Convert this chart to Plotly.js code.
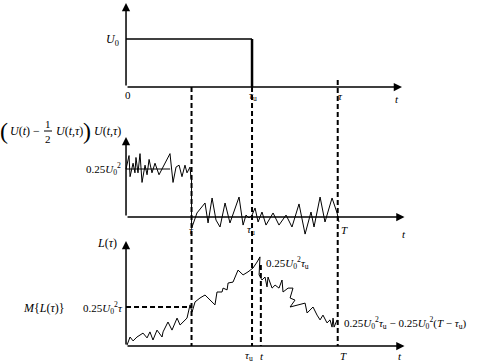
<!DOCTYPE html>
<html><head><meta charset="utf-8">
<script src="https://cdn.plot.ly/plotly-3.0.1.min.js"></script>
<style>html,body{margin:0;padding:0;background:#fff}#chart{width:481px;height:363px}</style>
</head><body><div id="chart"></div>
<script>
// ---- key instants (time units, tau_u = 10) ----
const tauMark = 5.2;     // τ
const tauU = 10;         // τ_u
const Tend = 16.8;       // T
const tCursor = 10.7;    // t (bottom panel)

// ---- panel 1: rectangular pulse U(t) ----
const pulseT = [0, 10];
const pulseU = [1, 1];
const pulseEdgeT = [10, 10];
const pulseEdgeU = [1, 0];

// ---- panel 2: product [U(t) - 1/2 U(t,τ)] U(t,τ) ----
const meanLevel = 0.25;
const meanT = [0, 3.5];
const prodLeftT = [0, 0.24, 0.32, 0.56, 0.71, 0.79, 0.95, 1.11, 1.27, 1.51, 1.67, 1.83, 2.06, 2.30, 2.62, 3.49, 3.73, 3.97, 4.21, 4.44, 4.68, 4.84, 5.08, 5.16, 5.2, 5.2];
const prodLeftV = [0.25, 0.32, 0.21, 0.28, 0.23, 0.31, 0.23, 0.33, 0.18, 0.27, 0.22, 0.30, 0.23, 0.28, 0.22, 0.33, 0.18, 0.26, 0.27, 0.21, 0.27, 0.23, 0.26, 0.20, 0.21, -0.06];
const prodRightT = [5.2, 5.63, 6.27, 6.51, 6.83, 7.14, 7.46, 7.86, 8.25, 8.97, 9.29, 9.52, 9.76, 10.0, 10.24, 10.48, 10.79, 11.11, 11.67, 12.14, 12.70, 13.17, 13.73, 14.21, 14.68, 14.92, 15.40, 15.79, 16.35, 16.75, 16.90];
const prodRightV = [-0.06, 0.021, 0.073, -0.031, 0.099, -0.016, -0.052, 0.073, -0.031, 0.104, -0.042, 0.010, -0.005, 0.010, 0.047, -0.026, 0.026, -0.042, 0.021, -0.042, 0.010, -0.052, 0.068, -0.089, 0.026, -0.052, 0.104, -0.026, 0.099, 0.021, -0.026];

// ---- panel 3: L(τ) ----
const meanL = 1.3;   // 0.25 U0^2 τ
const lT = [0.08, 0.32, 0.56, 0.87, 1.35, 1.67, 1.90, 2.14, 2.46, 2.86, 2.94, 3.33, 3.65, 4.05, 4.29, 4.84, 5.08, 5.24, 5.48, 5.87, 6.27, 7.06, 7.22, 7.62, 7.70, 8.02, 8.10, 8.49, 8.89, 9.29, 9.68, 10.08, 10.40, 10.63, 10.56, 10.79, 11.03, 11.19, 11.27, 11.59, 11.83, 12.14, 12.38, 12.46, 12.86, 13.25, 13.02, 13.41, 13.02, 13.65, 14.21, 14.37, 14.84, 15.16, 15.40, 15.63, 15.95, 16.19, 16.35, 16.43, 16.51, 16.75];
const lV = [0.03, 0.30, 0.17, 0.30, 0.43, 0.27, 0.47, 0.20, 0.53, 0.30, 0.47, 0.80, 0.53, 0.93, 0.70, 0.93, 1.37, 1.13, 1.47, 1.60, 1.70, 1.37, 1.80, 1.80, 1.93, 1.87, 2.10, 2.13, 2.53, 2.37, 2.47, 2.60, 2.80, 2.97, 2.37, 2.20, 2.30, 1.97, 2.30, 1.93, 2.03, 1.93, 2.20, 1.80, 1.93, 1.93, 1.60, 1.53, 1.30, 1.37, 1.43, 1.10, 1.30, 1.03, 0.87, 1.03, 0.77, 0.87, 0.63, 0.93, 0.63, 0.87];

const W = 481, H = 363;
const FONT = 'Liberation Serif, Times New Roman, serif';
const line = (w) => ({color: '#000', width: w});

const traces = [
  {x: pulseT, y: pulseU, type: 'scatter', mode: 'lines', line: line(1.5), xaxis: 'x', yaxis: 'y', hoverinfo: 'skip'},
  {x: pulseEdgeT, y: pulseEdgeU, type: 'scatter', mode: 'lines', line: line(2.5), xaxis: 'x', yaxis: 'y', hoverinfo: 'skip'},
  {x: meanT, y: [meanLevel, meanLevel], type: 'scatter', mode: 'lines', line: line(1.2), xaxis: 'x', yaxis: 'y2', hoverinfo: 'skip'},
  {x: prodLeftT, y: prodLeftV, type: 'scatter', mode: 'lines', line: line(1), xaxis: 'x', yaxis: 'y2', hoverinfo: 'skip'},
  {x: prodRightT, y: prodRightV, type: 'scatter', mode: 'lines', line: line(1), xaxis: 'x', yaxis: 'y2', hoverinfo: 'skip'},
  {x: lT, y: lV, type: 'scatter', mode: 'lines', line: line(1), xaxis: 'x', yaxis: 'y3', hoverinfo: 'skip'}
];

// paper position helpers for layout items
const PX = (x) => x / W;
const PY = (y) => 1 - y / H;
function lab(text, x, y, anchor, size) {
  return {text: text, xref: 'paper', yref: 'paper', x: PX(x), y: PY(y),
    xanchor: anchor || 'center', yanchor: 'middle', showarrow: false,
    font: {family: FONT, size: size || 11, color: '#000'}};
}
function arrow(xh, yh, xt, yt, yref) {
  return {x: xh, y: yh, ax: xt, ay: yt, xref: 'x', yref: yref, axref: 'x', ayref: yref,
    text: '', showarrow: true, arrowhead: 2, arrowsize: 1.1, arrowwidth: 1.5, arrowcolor: '#000', standoff: 0, startstandoff: 0};
}
const U02 = '<i>U</i><sub>0</sub><sup>2</sup>';
const annotations = [
  // axes
  arrow(0, 1.75, 0, 0, 'y'), arrow(21.9, 0, 0, 0, 'y'),
  arrow(0, 0.417, 0, 0, 'y2'), arrow(22.1, 0, 0, 0, 'y2'),
  arrow(0, 3.5, 0, 0, 'y3'), arrow(22.1, 0, 0, 0, 'y3'),
  // panel 1
  lab('<i>U</i><sub>0</sub>', 112, 40, 'center', 12),
  lab('0', 128, 95),
  lab('<i>τ</i><sub>u</sub>', 253, 96),
  lab('<i>τ</i>', 340, 96),
  lab('<i>t</i>', 397, 99),
  // panel 2
  lab('(', 4, 131, 'center', 24),
  lab('<i>U</i>(<i>t</i>) −', 25, 131, 'center', 12),
  lab('1', 48, 124, 'center', 11),
  lab('2', 48, 139, 'center', 11),
  lab('<i>U</i>(<i>t</i>,<i>τ</i>)', 54, 131, 'left', 12),
  lab(')', 87, 131, 'center', 24),
  lab('<i>U</i>(<i>t</i>,<i>τ</i>)', 92, 131, 'left', 12),
  lab('0.25' + U02, 123, 169, 'right'),
  lab('<i>τ</i>', 191, 230),
  lab('<i>τ</i><sub>u</sub>', 251, 230),
  lab('<i>T</i>', 344, 230),
  lab('<i>t</i>', 404, 234),
  // panel 3
  lab('<i>L</i>(<i>τ</i>)', 107, 243, 'center', 12),
  lab('<i>M</i>{<i>L</i>(<i>τ</i>)}', 44, 308, 'center', 12),
  lab('0.25' + U02 + '<i>τ</i>', 125, 308, 'right'),
  lab('0.25' + U02 + '<i>τ</i><sub>u</sub>', 264, 263, 'left'),
  lab('0.25' + U02 + '<i>τ</i><sub>u</sub> − 0.25' + U02 + '(<i>T</i> − <i>τ</i><sub>u</sub>)', 342, 323, 'left'),
  lab('<i>τ</i><sub>u</sub>', 249, 356),
  lab('<i>t</i>', 262, 356),
  lab('<i>T</i>', 343, 356),
  lab('<i>t</i>', 400, 356)
];

const dash = {color: '#000', width: 2, dash: '5px,3px'};
const shapes = [
  {type: 'line', xref: 'x', yref: 'paper', x0: tauMark, x1: tauMark, y0: PY(87), y1: PY(346), line: dash},
  {type: 'line', xref: 'x', yref: 'paper', x0: tauU, x1: tauU, y0: PY(87), y1: PY(346), line: dash},
  {type: 'line', xref: 'x', yref: 'paper', x0: Tend, x1: Tend, y0: PY(80), y1: PY(346), line: dash},
  {type: 'line', xref: 'x', yref: 'paper', x0: tCursor, x1: tCursor, y0: PY(265), y1: PY(346), line: dash},
  {type: 'line', xref: 'x', yref: 'y3', x0: 0, x1: tauMark, y0: meanL, y1: meanL, line: dash},
  // fraction bar
  {type: 'line', xref: 'paper', yref: 'paper', x0: PX(44), x1: PX(52), y0: PY(131), y1: PY(131), line: {color: '#000', width: 1}}
];

const hidden = {visible: false, fixedrange: true};
const layout = {
  width: W, height: H, margin: {l: 0, r: 0, t: 0, b: 0},
  paper_bgcolor: '#fff', plot_bgcolor: '#fff', showlegend: false,
  xaxis: Object.assign({range: [-10, 28.17], domain: [0, 1]}, hidden),
  yaxis: Object.assign({range: [-5.75, 1.8125], domain: [0, 1]}, hidden),
  yaxis2: Object.assign({range: [-0.7604, 1.1302], overlaying: 'y'}, hidden),
  yaxis3: Object.assign({range: [-0.5667, 11.533], overlaying: 'y'}, hidden),
  shapes: shapes, annotations: annotations
};
Plotly.newPlot('chart', traces, layout, {staticPlot: true, displayModeBar: false});
</script></body></html>
